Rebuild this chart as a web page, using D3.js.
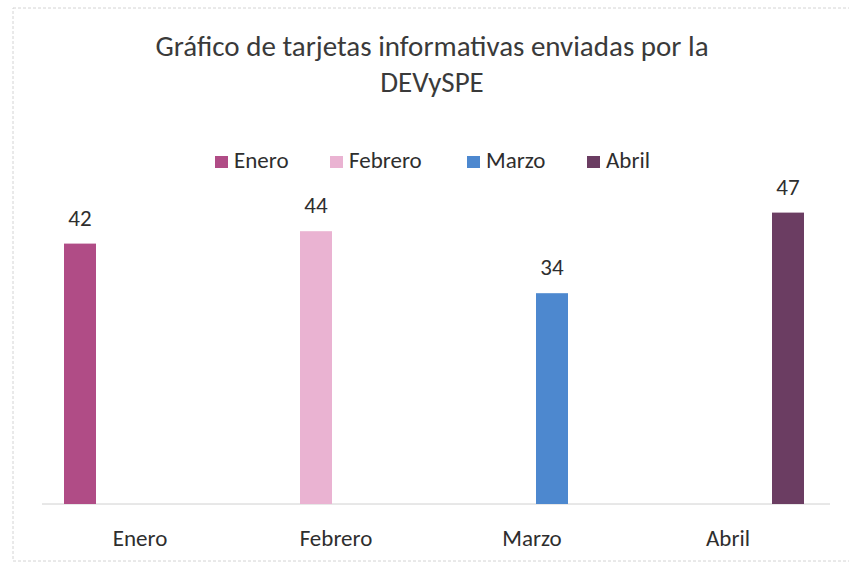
<!DOCTYPE html>
<html>
<head>
<meta charset="utf-8">
<script src="https://cdn.jsdelivr.net/npm/d3@7"></script>
<style>
  body { margin: 0; background: #fff; }
  text { font-family: Carlito, Lato, "Open Sans", sans-serif; fill: #2e2e2e; }
</style>
</head>
<body>
<div class="svg-div"></div>
<script>
const categories = ["Enero", "Febrero", "Marzo", "Abril"];
const series = ["Enero", "Febrero", "Marzo", "Abril"];
const values = [42, 44, 34, 47];
const colors = ["#b04c86", "#eab3d2", "#4d88cf", "#6b3d62"];
const titleLines = ["Gráfico de tarjetas informativas enviadas por la", "DEVySPE"];

const svgWidth = 849, svgHeight = 565;
const margin = {top: 194, right: 23, bottom: 61, left: 42};
const width = svgWidth - margin.left - margin.right;
const height = svgHeight - margin.top - margin.bottom;

const svg = d3.select(".svg-div").append("svg")
  .attr("width", svgWidth)
  .attr("height", svgHeight);

// frame of the chart area
svg.append("rect")
  .attr("x", 13).attr("y", 8)
  .attr("width", 860).attr("height", 553)
  .attr("fill", "none")
  .attr("stroke", "#d4d4d4")
  .attr("stroke-dasharray", "3,2");

const title = svg.append("text")
  .attr("text-anchor", "middle")
  .style("font-size", "29px")
  .style("fill", "#3a3a3a");
title.selectAll("tspan")
  .data(titleLines)
  .enter()
  .append("tspan")
  .attr("x", 432)
  .attr("y", (d, i) => 56 + i * 36)
  .text(d => d);

const x = d3.scaleBand()
  .domain(categories)
  .range([0, width]);

const xSub = d3.scaleBand()
  .domain(series)
  .range([0, x.bandwidth()])
  .paddingInner(0.2)
  .paddingOuter(0.55);

const y = d3.scaleLinear()
  .domain([0, 50])
  .range([height, 0]);

const g = svg.append("g")
  .attr("transform", "translate(" + margin.left + "," + margin.top + ")");

// baseline
g.append("line")
  .attr("x1", 0).attr("x2", width + 4)
  .attr("y1", height).attr("y2", height)
  .attr("stroke", "#d0d0d0")
  .attr("stroke-width", 1);

const rows = categories.map((c, i) => ({cat: c, ser: series[i], value: values[i], color: colors[i]}));

g.selectAll(".bar")
  .data(rows)
  .enter()
  .append("rect")
  .attr("class", "bar")
  .attr("x", d => x(d.cat) + xSub(d.ser))
  .attr("y", d => y(d.value))
  .attr("width", xSub.bandwidth())
  .attr("height", d => height - y(d.value))
  .style("fill", d => d.color);

g.selectAll(".val")
  .data(rows)
  .enter()
  .append("text")
  .attr("class", "val")
  .attr("text-anchor", "middle")
  .attr("x", d => x(d.cat) + xSub(d.ser) + xSub.bandwidth() / 2)
  .attr("y", d => y(d.value) - 18)
  .style("font-size", "23px")
  .text(d => d.value);

g.selectAll(".cat")
  .data(categories)
  .enter()
  .append("text")
  .attr("class", "cat")
  .attr("text-anchor", "middle")
  .attr("x", d => x(d) + x.bandwidth() / 2)
  .attr("y", height + 42)
  .style("font-size", "23px")
  .text(d => d);

// legend
const legendX = [215, 330, 467, 587];
const legend = svg.selectAll(".leg")
  .data(series)
  .enter()
  .append("g")
  .attr("class", "leg")
  .attr("transform", (d, i) => "translate(" + legendX[i] + ",156)");
legend.append("rect")
  .attr("width", 13).attr("height", 12)
  .style("fill", (d, i) => colors[i]);
legend.append("text")
  .attr("x", 19).attr("y", 12)
  .style("font-size", "23px")
  .text(d => d);
</script>
</body>
</html>
